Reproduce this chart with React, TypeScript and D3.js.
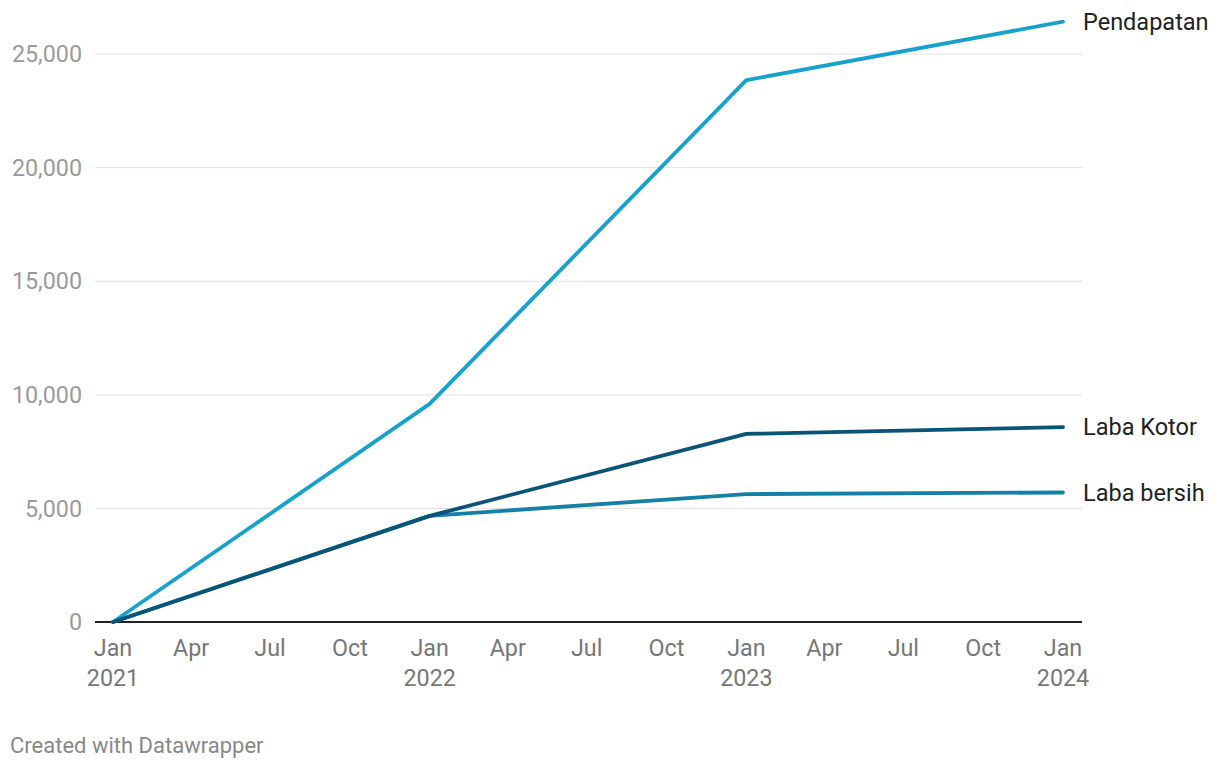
import React from "react";
import * as d3 from "d3";

const dates = ["2021-01-01", "2022-01-01", "2023-01-01", "2024-01-01"];
const seriesNames = ["Pendapatan", "Laba bersih", "Laba Kotor"];
const pendapatan = [0, 9600, 23850, 26420];
const labaBersih = [0, 4670, 5630, 5700];
const labaKotor = [0, 4670, 8280, 8580];
const colors = ["#18a1cd", "#1580a6", "#0a5478"];
const yTicks = [0, 5000, 10000, 15000, 20000, 25000];
const monthNames = ["Jan", "Apr", "Jul", "Oct"];

export default function App() {
  const W = 1220, H = 768;
  const parse = d3.timeParse("%Y-%m-%d");
  const xDates = dates.map((d) => parse(d) as Date);
  const x = d3.scaleTime().domain([xDates[0], xDates[3]]).range([113, 1063]);
  const y = d3.scaleLinear().domain([0, 25000]).range([622, 54]);
  const all = [pendapatan, labaBersih, labaKotor];
  const line = d3
    .line<number>()
    .x((_, i) => x(xDates[i]))
    .y((v) => y(v));
  const ticks = d3.timeMonth.every(3)!.range(xDates[0], d3.timeDay.offset(xDates[3], 1));
  const font = "Roboto, sans-serif";
  return (
    <svg width={W} height={H} style={{ position: "absolute", left: 0, top: 0 }} fontFamily={font}>
      {yTicks.map((t) => (
        <g key={t}>
          {t !== 0 && (
            <line x1={95} x2={1082} y1={y(t)} y2={y(t)} stroke="#e0e0e0" strokeWidth={1} />
          )}
          <text x={82} y={y(t)} dy="0.35em" textAnchor="end" fontSize={23.3} fill="#9a9a9a">
            {d3.format(",")(t)}
          </text>
        </g>
      ))}
      <line x1={95} x2={1082} y1={y(0)} y2={y(0)} stroke="#222" strokeWidth={2} />
      {ticks.map((d, i) => {
        const m = d.getMonth();
        const isJan = m === 0;
        return (
          <g key={i}>
            <text x={x(d)} y={656} textAnchor="middle" fontSize={23.3} fill="#777">
              {monthNames[m / 3]}
            </text>
            {isJan && (
              <text x={x(d)} y={686} textAnchor="middle" fontSize={23.3} fill="#777">
                {d.getFullYear()}
              </text>
            )}
          </g>
        );
      })}
      {all.map((s, i) => (
        <path
          key={i}
          d={line(s) || ""}
          fill="none"
          stroke={colors[i]}
          strokeWidth={3.8}
          strokeLinejoin="round"
          strokeLinecap="round"
        />
      ))}
      {all.map((s, i) => (
        <text
          key={"l" + i}
          x={1083}
          y={y(s[s.length - 1])}
          dy="0.35em"
          fontSize={23.5}
          fill="#222"
        >
          {seriesNames[i]}
        </text>
      ))}
      <text x={10} y={753} fontSize={22} fill="#888">
        Created with Datawrapper
      </text>
    </svg>
  );
}
